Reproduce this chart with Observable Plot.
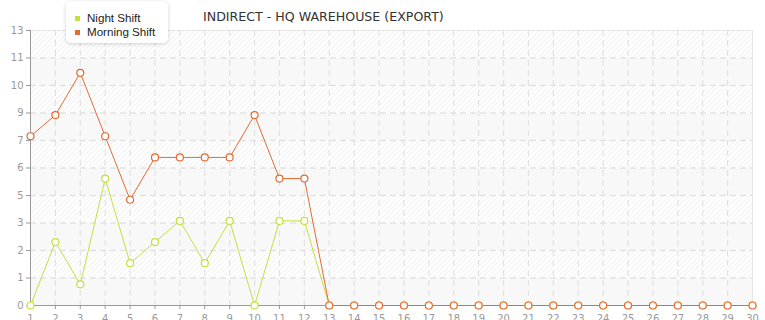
<!DOCTYPE html>
<html>
<head>
<meta charset="utf-8">
<script src="https://cdn.jsdelivr.net/npm/d3@7"></script>
<script src="https://cdn.jsdelivr.net/npm/@observablehq/plot@0.6"></script>
<style>
  html, body { margin: 0; padding: 0; background: #fff; }
  #wrap { position: relative; width: 765px; height: 320px; overflow: hidden; }
  #title { position: absolute; left: 203px; top: 9px; font: 12.6px "DejaVu Sans", sans-serif; color: #333; white-space: nowrap; }
  #legend { position: absolute; left: 66px; top: 1px; width: 102px; height: 42px; background: #fff; border-radius: 5px;
            box-shadow: 0 1px 4px rgba(0,0,0,0.18); font: 11.6px "Liberation Sans", Arial, sans-serif; color: #222; }
  .item { position: absolute; left: 9px; white-space: nowrap; }
  .sw { display: inline-block; width: 5px; height: 5px; margin-right: 7px; vertical-align: 1px; }
</style>
</head>
<body>
<div id="wrap">
  <div id="chart"></div>
  <div id="title"></div>
  <div id="legend"></div>
</div>
<script>
const title = "INDIRECT - HQ WAREHOUSE (EXPORT)";
const days = d3.range(1, 31);
const seriesNames = ["Night Shift", "Morning Shift"];
const seriesColors = ["#c6df3f", "#e36b33"];
const nightShift   = [0, 3, 1, 6, 2, 3, 4, 2, 4, 0, 4, 4, 0, 0, 0, 0, 0, 0, 0, 0, 0, 0, 0, 0, 0, 0, 0, 0, 0, 0];
const morningShift = [8, 9, 11, 8, 5, 7, 7, 7, 7, 9, 6, 6, 0, 0, 0, 0, 0, 0, 0, 0, 0, 0, 0, 0, 0, 0, 0, 0, 0, 0];
const yTicks = [0, 1.3, 2.6, 3.9, 5.2, 6.5, 7.8, 9.1, 10.4, 11.7, 13];
const yTickLabels = ["0", "1", "2", "3", "5", "6", "7", "9", "10", "11", "13"];

const rows = [];
seriesNames.forEach((name, s) => {
  const vals = s === 0 ? nightShift : morningShift;
  days.forEach((d, i) => rows.push({series: name, day: d, value: vals[i]}));
});

// alternating background bands between horizontal grid lines
const bands = yTicks.slice(0, -1).map((v, i) => ({y1: v, y2: yTicks[i + 1], hatched: i % 2 === 1}));

const chart = Plot.plot({
  width: 765,
  height: 320,
  marginTop: 30,
  marginLeft: 30,
  marginRight: 13,
  marginBottom: 15,
  style: {fontFamily: "DejaVu Sans, sans-serif", fontSize: "10px", color: "#999", background: "transparent"},
  x: {domain: [1, 30], label: null},
  y: {domain: [0, 13], label: null},
  color: {domain: seriesNames, range: seriesColors},
  marks: [
    Plot.rectY(bands, {x1: 1, x2: 30, y1: "y1", y2: "y2", fill: d => d.hatched ? "url(#hatch)" : "#f8f8f8"}),
    Plot.ruleY(yTicks.slice(1, -1), {stroke: "#e2e2e2", strokeWidth: 1.5, strokeDasharray: "6,4"}),
    Plot.ruleX(days.slice(1, -1), {stroke: "#e2e2e2", strokeWidth: 1.2, strokeDasharray: "6,4"}),
    Plot.ruleY([13], {stroke: "#e6e6e6"}),
    Plot.ruleX([30], {stroke: "#e6e6e6"}),
    Plot.ruleX([1], {stroke: "#999"}),
    Plot.ruleY([0], {stroke: "#999"}),
    Plot.axisY({ticks: yTicks, tickFormat: (d, i) => yTickLabels[i], tickSize: 4, tickPadding: 3, stroke: "#999", fill: "#999"}),
    Plot.axisX({ticks: days, tickFormat: d => String(d), tickSize: 4, tickPadding: 5, stroke: "#999", fill: "#999"}),
    Plot.line(rows, {x: "day", y: "value", stroke: "series", z: "series", strokeWidth: 1}),
    Plot.dot(rows, {x: "day", y: "value", stroke: "series", fill: "#fff", r: 3.5, strokeWidth: 1.2})
  ]
});

// diagonal hatch pattern used by the alternating bands
const defs = d3.select(chart).insert("defs", ":first-child");
const pat = defs.append("pattern").attr("id", "hatch").attr("patternUnits", "userSpaceOnUse")
  .attr("width", 5).attr("height", 5);
pat.append("rect").attr("width", 5).attr("height", 5).attr("fill", "#fff");
pat.append("path").attr("d", "M-1,1 l2,-2 M0,5 l5,-5 M4,6 l2,-2").attr("stroke", "#efefef").attr("stroke-width", 1);

document.getElementById("chart").appendChild(chart);
document.getElementById("title").textContent = title;

const legend = d3.select("#legend");
seriesNames.forEach((name, i) => {
  const it = legend.append("div").attr("class", "item").style("top", (10 + i * 14) + "px");
  it.append("span").attr("class", "sw").style("background", seriesColors[i]);
  it.append("span").text(name);
});
</script>
</body>
</html>
